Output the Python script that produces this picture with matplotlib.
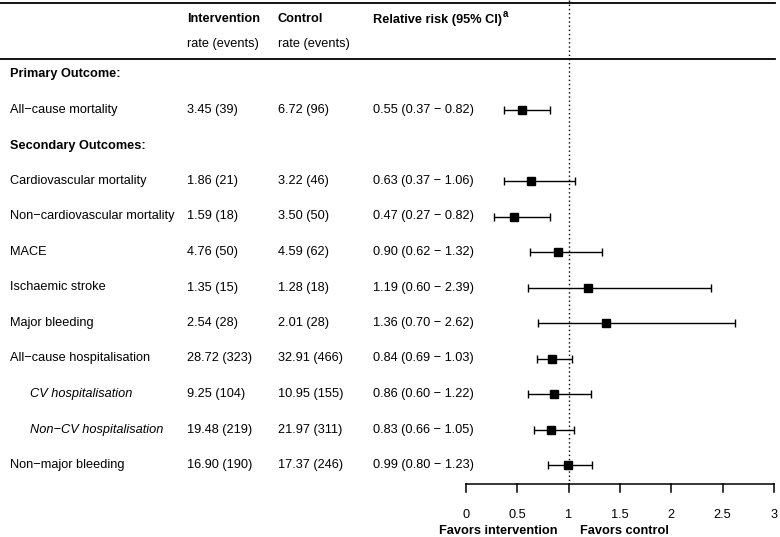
import numpy as np
import matplotlib
matplotlib.use('Agg')
from matplotlib import pyplot as plt
from matplotlib.transforms import blended_transform_factory

plt.rcParams['font.family'] = ['Liberation Sans', 'DejaVu Sans']

outcomes = ['All\u2212cause mortality',
            'Cardiovascular mortality', 'Non\u2212cardiovascular mortality', 'MACE',
            'Ischaemic stroke', 'Major bleeding', 'All\u2212cause hospitalisation',
            'CV hospitalisation', 'Non\u2212CV hospitalisation', 'Non\u2212major bleeding']
italic = [False, False, False, False, False, False, False, True, True, False]
intervention = ['3.45 (39)', '1.86 (21)', '1.59 (18)', '4.76 (50)', '1.35 (15)',
                '2.54 (28)', '28.72 (323)', '9.25 (104)', '19.48 (219)', '16.90 (190)']
control = ['6.72 (96)', '3.22 (46)', '3.50 (50)', '4.59 (62)', '1.28 (18)',
           '2.01 (28)', '32.91 (466)', '10.95 (155)', '21.97 (311)', '17.37 (246)']
rr = [0.55, 0.63, 0.47, 0.90, 1.19, 1.36, 0.84, 0.86, 0.83, 0.99]
lo = [0.37, 0.37, 0.27, 0.62, 0.60, 0.70, 0.69, 0.60, 0.66, 0.80]
hi = [0.82, 1.06, 0.82, 1.32, 2.39, 2.62, 1.03, 1.22, 1.05, 1.23]
xticks = [0, 0.5, 1, 1.5, 2, 2.5, 3]

W, H = 780, 537
fig = plt.figure(figsize=(W/100, H/100), dpi=100)
ax = fig.add_axes([0, 0, 1, 1])
# x in relative-risk units, 0 -> px 466, 3 -> px 774
ppu = (774 - 466) / 3.0
ax.set_xlim(-466/ppu, 3 + (W - 774)/ppu)
ax.set_ylim(H, 0)
ax.axis('off')
tr = blended_transform_factory(fig.transFigure, ax.transData)

def px(x):
    return x / W

fs = 9.2
va = 'center_baseline'
row_y = lambda i: 73 + 35.5*i
# data rows: primary (1), then secondary from row 3
rows = [1] + list(range(3, 12))

# header
ax.text(px(187), 18, 'Intervention', transform=tr, fontsize=fs, fontweight='bold', va=va)
ax.text(px(187), 43, 'rate (events)', transform=tr, fontsize=fs, va=va)
ax.text(px(278), 18, 'Control', transform=tr, fontsize=fs, fontweight='bold', va=va)
ax.text(px(278), 43, 'rate (events)', transform=tr, fontsize=fs, va=va)
hdr = ax.text(px(373), 18, 'Relative risk (95% CI)', transform=tr, fontsize=fs,
              fontweight='bold', va=va)
ax.text(px(503), 13, 'a', transform=tr, fontsize=7, fontweight='bold', va=va)
ax.plot([0, 775/W], [3, 3], transform=tr, color='black', lw=1.3)
ax.plot([0, 775/W], [59, 59], transform=tr, color='black', lw=1.3)

ax.text(px(10), row_y(0), 'Primary Outcome:', transform=tr, fontsize=fs, fontweight='bold', va=va)
ax.text(px(10), row_y(2), 'Secondary Outcomes:', transform=tr, fontsize=fs, fontweight='bold', va=va)

for k, r in enumerate(rows):
    y = row_y(r)
    if italic[k]:
        ax.text(px(30), y, outcomes[k], transform=tr, fontsize=fs, style='italic', va=va)
    else:
        ax.text(px(10), y, outcomes[k], transform=tr, fontsize=fs, va=va)
    ax.text(px(187), y, intervention[k], transform=tr, fontsize=fs, va=va)
    ax.text(px(278), y, control[k], transform=tr, fontsize=fs, va=va)
    ax.text(px(373), y, '%.2f (%.2f \u2212 %.2f)' % (rr[k], lo[k], hi[k]),
            transform=tr, fontsize=fs, va=va)
    ax.errorbar(rr[k], y + 1.5, xerr=[[rr[k]-lo[k]], [hi[k]-rr[k]]], fmt='s', color='black',
                ms=6, capsize=3, elinewidth=1, capthick=1)

# reference line
ax.plot([1, 1], [0, 484], color='black', lw=1, ls=(0, (1, 2)))

# bottom axis
ax.plot([xticks[0], xticks[-1]], [484, 484], color='black', lw=1.1)
for t in xticks:
    ax.plot([t, t], [484, 492], color='black', lw=1.1)
    ax.text(t, 513, '%g' % t, ha='center', va=va, fontsize=fs)
ax.text(1 - 11/ppu, 529, 'Favors intervention', ha='right', va=va, fontsize=fs, fontweight='bold')
ax.text(1 + 11/ppu, 529, 'Favors control', ha='left', va=va, fontsize=fs, fontweight='bold')

fig.savefig('out.png', dpi=100)
